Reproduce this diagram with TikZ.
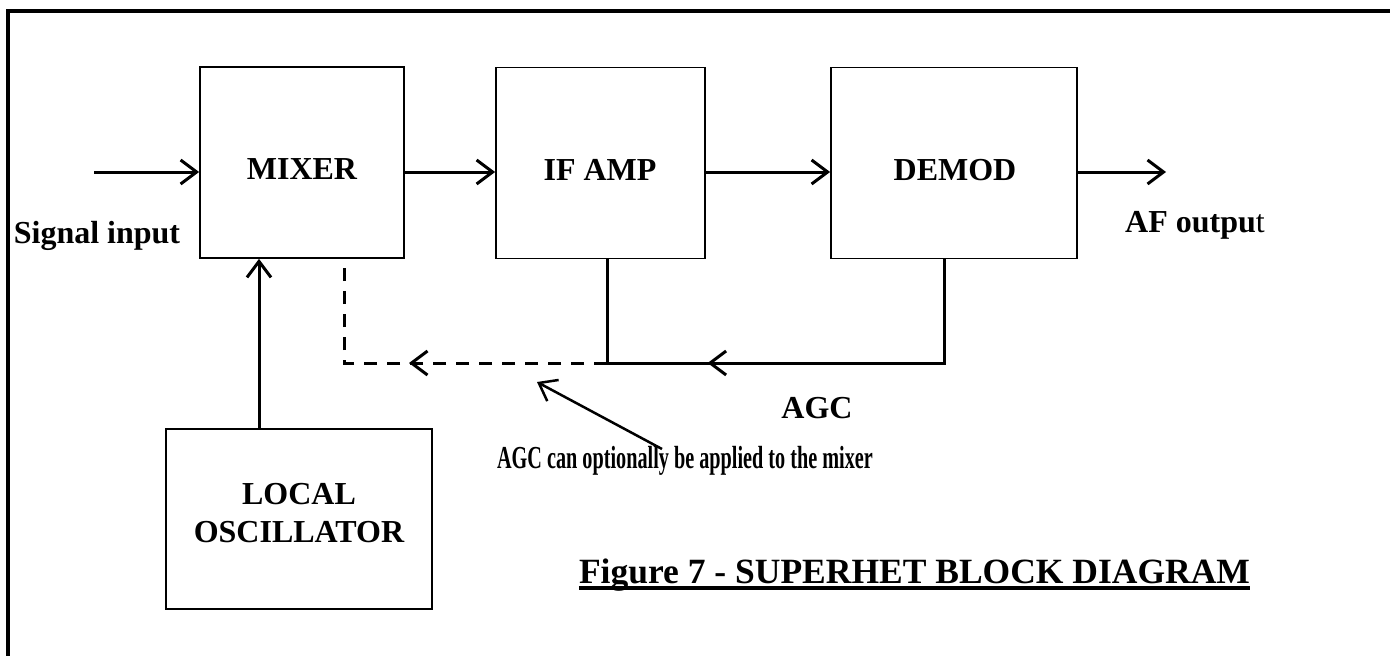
\documentclass[tikz,border=0pt]{standalone}
\usepackage{fontspec}
\setmainfont{Liberation Serif}
\usetikzlibrary{arrows.meta,decorations.markings}
\begin{document}
\begin{tikzpicture}[x=1pt,y=-1pt,
  block/.style={draw, line width=1.8pt, inner sep=0pt},
  lbl/.style={font=\fontsize{32}{38}\selectfont\bfseries, inner sep=0pt, align=center},
  capfont/.style={font=\fontsize{35.5}{42}\selectfont\bfseries, inner sep=0pt},
  barb/.style={-{Straight Barb[length=16pt,width=24pt]}},
  conn/.style={line width=3pt, barb},
  wire/.style={line width=3pt},
  dashwire/.style={line width=3pt, dash pattern=on 13pt off 10pt},
  midarrow/.style={postaction={decorate}, decoration={markings,
      mark=at position #1 with {\arrow[line width=3pt]{Straight Barb[length=16pt,width=24pt]}}}},
]
\useasboundingbox (0,0) rectangle (1390,656);

% frame (top and left edges)
\draw[line width=4pt] (8,656) -- (8,11) -- (1390,11);

% blocks
\node[block, minimum width=204pt, minimum height=191pt] (mixer) at (302,162.5) {};
\node[block, minimum width=209pt, minimum height=191pt] (ifamp) at (600.5,163) {};
\node[block, minimum width=246pt, minimum height=191pt] (demod) at (954,163) {};
\node[block, minimum width=266pt, minimum height=180pt] (lo) at (299,519) {};

% block labels
\node[lbl] (mixerlbl) at (302,169) {MIXER};
\node[lbl] (ifamplbl) at (600,170) {IF AMP};
\node[lbl] (demodlbl) at (955,170) {DEMOD};
\node[lbl] (lolbl) at (299,513) {LOCAL\\OSCILLATOR};

% signal path
\coordinate (in) at (94,172);
\coordinate (out) at (1166,172);
\draw[conn] (in) -- (mixer.west |- in);
\draw[conn] (mixer.east |- in) -- (ifamp.west |- in);
\draw[conn] (ifamp.east |- in) -- (demod.west |- in);
\draw[conn] (demod.east |- in) -- (out);

% local oscillator feed
\coordinate (lotap) at (259,0);
\draw[conn] (lo.north -| lotap) -- (mixer.south -| lotap);

% AGC loop
\coordinate (dtap) at (944,363);
\coordinate (itap) at (607,363);
\coordinate (mtap) at (344,363);
\draw[wire, midarrow=340pt] (demod.south -| dtap) -- (dtap) -- (itap);
\draw[wire] (ifamp.south -| itap) -- (itap);
\draw[dashwire, midarrow=198pt] (itap) -- (mtap) -- (mixer.south -| mtap);

% texts
\node[lbl, anchor=base] (sigin) at (97,243) {Signal input};
\node[lbl, anchor=base] (afout) at (1195,232) {AF outpu\mdseries t};
\node[lbl] (agc) at (817,408) {AGC};
\node[lbl] (note) at (685,461) {\scalebox{0.632}[1]{AGC can optionally be applied to the mixer}};

% pointer to the optional mixer AGC path
\coordinate (notetail) at (662,449);
\coordinate (notetip) at (537,382);
\draw[line width=2.5pt, barb] (notetail) -- (notetip);

% caption
\node[capfont, anchor=base] (cap) at (914.5,583) {Figure 7 - SUPERHET BLOCK DIAGRAM};
\draw[line width=3.3pt] ([yshift=-5pt]cap.base west) -- ([yshift=-5pt]cap.base east);
\end{tikzpicture}
\end{document}
